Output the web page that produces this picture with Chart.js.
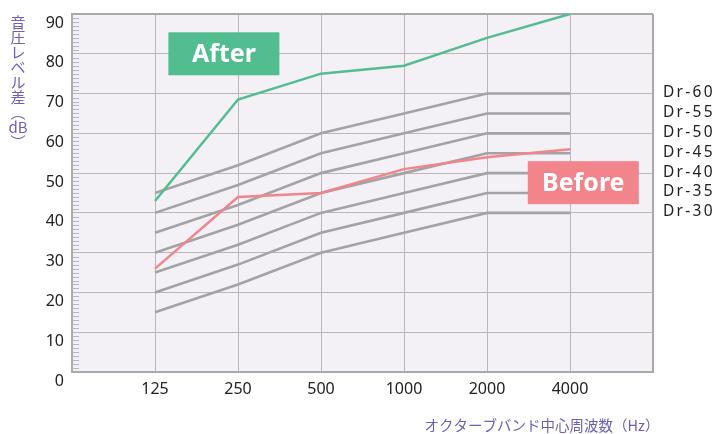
<!DOCTYPE html>
<html><head><meta charset="utf-8">
<script src="https://cdn.jsdelivr.net/npm/chart.js@4/dist/chart.umd.min.js"></script>
<style>html,body{margin:0;padding:0;background:#fff}#wrap{width:719px;height:434px;position:relative}</style>
</head><body><div id="wrap"><canvas id="c"></canvas></div>
<script>
// ---- data ----
const categories = ['125', '250', '500', '1000', '2000', '4000'];
const xTickLabels = ['', '125', '250', '500', '1000', '2000', '4000', ''];
const afterValues  = [43, 68.5, 75, 77, 84, 90];
const beforeValues = [26, 44, 45, 51, 54, 56];
const dr60 = [45, 52, 60, 65, 70, 70];
const dr55 = [40, 47, 55, 60, 65, 65];
const dr50 = [35, 42, 50, 55, 60, 60];
const dr45 = [30, 37, 45, 50, 55, 55];
const dr40 = [25, 32, 40, 45, 50, 50];
const dr35 = [20, 27, 35, 40, 45, 45];
const dr30 = [15, 22, 30, 35, 40, 40];
const drNames = ['Dr-60', 'Dr-55', 'Dr-50', 'Dr-45', 'Dr-40', 'Dr-35', 'Dr-30'];
const drSeries = [dr60, dr55, dr50, dr45, dr40, dr35, dr30];
const yTickValues = [0, 10, 20, 30, 40, 50, 60, 70, 80, 90];
const yTitleChars = ['音', '圧', 'レ', 'ベ', 'ル', '差', '︵', 'dB', '︶'];
const xTitle = 'オクターブバンド中心周波数（Hz）';

// ---- styling ----
const GREEN = '#52be8f', PINK = '#f2848c', GRAY = '#a3a3a5', GRID = '#b9b7bc', BORDER = '#a9a8ab';
const PURPLE = '#6b62b5', TEXT = '#222';
const toPts = arr => arr.map((v, i) => ({x: i + 1, y: v}));

const datasets = [
  {label: 'After', data: toPts(afterValues), borderColor: GREEN, borderWidth: 2.5},
  {label: 'Before', data: toPts(beforeValues), borderColor: PINK, borderWidth: 2.5},
  ...drSeries.map((s, k) => ({label: drNames[k], data: toPts(s), borderColor: GRAY, borderWidth: 2.6}))
].map(d => Object.assign(d, {pointRadius: 0, tension: 0, fill: false}));

const badges = [
  {text: 'After', color: GREEN, x: 1.83, y: 80, w: 111, h: 43},
  {text: 'Before', color: PINK, x: 6.16, y: 47.6, w: 111, h: 43}
];

const deco = {
  id: 'deco',
  beforeDraw(chart) {
    const {ctx, chartArea: a} = chart;
    ctx.save();
    ctx.fillStyle = '#f3f0f6';
    ctx.fillRect(a.left, a.top, a.right - a.left, a.bottom - a.top);
    ctx.restore();
  },
  beforeDatasetsDraw(chart) {
    const {ctx, chartArea: a, scales: {y}} = chart;
    ctx.save();
    ctx.strokeStyle = GRID; ctx.lineWidth = 1;
    for (let v = 1; v < 90; v++) {
      if (v % 10 === 0) continue;
      const py = Math.round(y.getPixelForValue(v)) + 0.5;
      ctx.beginPath(); ctx.moveTo(a.left, py); ctx.lineTo(a.left + 7, py); ctx.stroke();
    }
    ctx.restore();
  },
  afterDraw(chart) {
    const {ctx, chartArea: a, scales: {x, y}} = chart;
    ctx.save();
    badges.forEach(b => {
      const cx = x.getPixelForValue(b.x), cy = y.getPixelForValue(b.y);
      ctx.fillStyle = b.color;
      ctx.fillRect(cx - b.w / 2, cy - b.h / 2, b.w, b.h);
      ctx.fillStyle = '#fff';
      ctx.font = 'bold 25px "Noto Sans", sans-serif';
      ctx.textAlign = 'center'; ctx.textBaseline = 'middle';
      ctx.fillText(b.text, cx, cy + 1);
    });
    ctx.fillStyle = TEXT;
    ctx.font = '15.5px "Noto Sans", sans-serif';
    ctx.letterSpacing = '2.3px';
    ctx.textAlign = 'left'; ctx.textBaseline = 'middle';
    drSeries.forEach((s, k) => {
      ctx.fillText(drNames[k], a.right + 10, y.getPixelForValue(s[s.length - 1]) - 1);
    });
    ctx.letterSpacing = '0px';
    ctx.fillStyle = PURPLE;
    ctx.font = '15px "Noto Sans CJK JP", sans-serif';
    ctx.textAlign = 'center';
    let ty = 22;
    yTitleChars.forEach(ch => {
      ctx.fillText(ch, 18, ty);
      ty += 15;
    });
    ctx.font = '14.5px "Noto Sans CJK JP", sans-serif';
    ctx.textAlign = 'center';
    ctx.fillText(xTitle, 542, 425);
    ctx.restore();
  }
};

new Chart(document.getElementById('c'), {
  type: 'line',
  data: {datasets},
  options: {
    responsive: true, maintainAspectRatio: false, animation: false,
    layout: {padding: {top: 14, right: 66, left: 0, bottom: 0}},
    plugins: {legend: {display: false}, tooltip: {enabled: false}},
    scales: {
      x: {
        type: 'linear', min: 0, max: 7,
        afterFit(s) { s.height = 62; s.paddingLeft = 0; s.paddingRight = 0; },
        afterBuildTicks(s) { s.ticks = xTickLabels.map((_, i) => ({value: i})); },
        ticks: {padding: 8, color: TEXT, font: {size: 16, family: '"Noto Sans", sans-serif'},
          callback: v => xTickLabels[v] ?? '', maxRotation: 0, autoSkip: false},
        grid: {drawTicks: false, color: c => (c.tick && (c.tick.value === 7)) ? BORDER : GRID,
          lineWidth: c => (c.tick && (c.tick.value === 7 || c.tick.value === 0)) ? 2 : 1},
        border: {color: BORDER, width: 2}
      },
      y: {
        min: 0, max: 90,
        afterFit(s) { s.width = 72; s.paddingTop = 0; s.paddingBottom = 0; },
        afterBuildTicks(s) { s.ticks = yTickValues.map(v => ({value: v})); },
        ticks: {padding: 8, labelOffset: 9, color: TEXT, font: {size: 16, family: '"Noto Sans", sans-serif'}},
        grid: {drawTicks: false, color: c => (c.tick && c.tick.value === 90) ? BORDER : GRID,
          lineWidth: c => (c.tick && (c.tick.value === 90 || c.tick.value === 0)) ? 2 : 1},
        border: {color: BORDER, width: 2}
      }
    }
  },
  plugins: [deco]
});
</script></body></html>
